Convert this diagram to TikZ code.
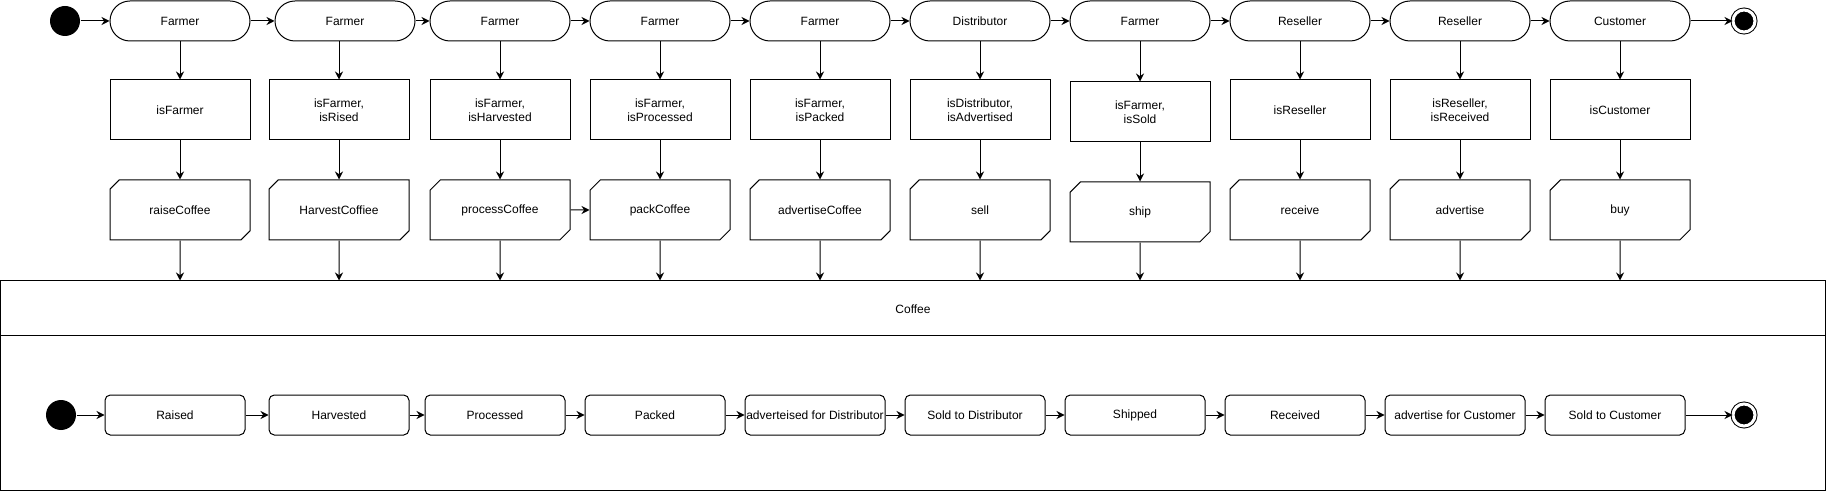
\documentclass[tikz,border=0pt]{standalone}
\usepackage{fontspec}
\setmainfont{Liberation Sans}
\usepackage{tikz}
\usetikzlibrary{arrows.meta,shapes.misc}
\tikzstyle{actor} = [draw, rectangle, rounded corners=15pt, minimum width=105pt, minimum height=30pt, inner sep=0pt]
\tikzstyle{check} = [draw, rectangle, minimum width=105pt, minimum height=45pt, inner sep=0pt, align=center]
\tikzstyle{task} = [draw, chamfered rectangle, chamfered rectangle corners={north west,south east}, chamfered rectangle xsep=9pt, minimum width=105pt, minimum height=45pt, inner sep=0pt]
\tikzstyle{status} = [draw, rectangle, rounded corners=4pt, minimum width=105pt, minimum height=30pt, inner sep=0pt]
\tikzstyle{startdot} = [circle, fill=black, minimum size=22.5pt, inner sep=0pt]
\tikzstyle{enddot} = [circle, draw, fill=black, double=white, double distance=2.25pt, minimum size=16.5pt, inner sep=0pt]
\tikzstyle{flow} = [-{Stealth[length=6pt,width=6pt]}]
\tikzset{font={\fontsize{9}{10.5}\selectfont}}

\begin{document}
\begin{tikzpicture}[x=0.75pt, y=-0.75pt, line width=0.75pt]
  \useasboundingbox (0,0) rectangle (1826,491);

  % who acts
  \node[at={(65,21)}, startdot] (s1) {};
  \node[at={(180,21)}, actor] (a1) {Farmer};
  \node[at={(345,21)}, actor] (a2) {Farmer};
  \node[at={(500,21)}, actor] (a3) {Farmer};
  \node[at={(660,21)}, actor] (a4) {Farmer};
  \node[at={(820,21)}, actor] (a5) {Farmer};
  \node[at={(980,21)}, actor] (a6) {Distributor};
  \node[at={(1140,21)}, actor] (a7) {Farmer};
  \node[at={(1300,21)}, actor] (a8) {Reseller};
  \node[at={(1460,21)}, actor] (a9) {Reseller};
  \node[at={(1620,21)}, actor] (a10) {Customer};
  \node[at={(1744,21)}, enddot] (e1) {};

  % checks
  \node[at={(180,110)}, check] (g1) {isFarmer};
  \node[at={(339,110)}, check] (g2) {isFarmer,\\isRised};
  \node[at={(500,110)}, check] (g3) {isFarmer,\\isHarvested};
  \node[at={(660,110)}, check] (g4) {isFarmer,\\isProcessed};
  \node[at={(820,110)}, check] (g5) {isFarmer,\\isPacked};
  \node[at={(980,110)}, check] (g6) {isDistributor,\\isAdvertised};
  \node[at={(1140,112)}, check] (g7) {isFarmer,\\isSold};
  \node[at={(1300,110)}, check] (g8) {isReseller};
  \node[at={(1460,110)}, check] (g9) {isReseller,\\isReceived};
  \node[at={(1620,110)}, check] (g10) {isCustomer};

  % functions
  \node[at={(180,210)}, task] (c1) {raiseCoffee};
  \node[at={(339,210)}, task] (c2) {HarvestCoffiee};
  \node[at={(500,210)}, task] (c3) {processCoffee};
  \node[at={(660,210)}, task] (c4) {packCoffee};
  \node[at={(820,210)}, task] (c5) {advertiseCoffee};
  \node[at={(980,210)}, task] (c6) {sell};
  \node[at={(1140,212)}, task] (c7) {ship};
  \node[at={(1300,210)}, task] (c8) {receive};
  \node[at={(1460,210)}, task] (c9) {advertise};
  \node[at={(1620,210)}, task] (c10) {buy};

  % the coffee object
  \node[at={(913,385.75)}, draw, minimum width=1368.75pt, minimum height=157.125pt, inner sep=0pt] (coffee) {};
  \node[at={(913,309)}] (title) {Coffee};
  \draw (0.5,336) -- (1825.5,336);

  \node[at={(61,415)}, startdot] (s2) {};
  \node[at={(175,415)}, status] (b1) {Raised};
  \node[at={(339,415)}, status] (b2) {Harvested};
  \node[at={(495,415)}, status] (b3) {Processed};
  \node[at={(655,415)}, status] (b4) {Packed};
  \node[at={(815,415)}, status] (b5) {adverteised for Distributor};
  \node[at={(975,415)}, status] (b6) {Sold to Distributor};
  \node[at={(1135,415)}, status] (b7) {Shipped};
  \node[at={(1295,415)}, status] (b8) {Received};
  \node[at={(1455,415)}, status] (b9) {advertise for Customer};
  \node[at={(1615,415)}, status] (b10) {Sold to Customer};
  \node[at={(1744,415)}, enddot] (e2) {};

  \draw[flow] (s1) -- (a1);
  \draw[flow] (a1) -- (a2);
  \draw[flow] (a2) -- (a3);
  \draw[flow] (a3) -- (a4);
  \draw[flow] (a4) -- (a5);
  \draw[flow] (a5) -- (a6);
  \draw[flow] (a6) -- (a7);
  \draw[flow] (a7) -- (a8);
  \draw[flow] (a8) -- (a9);
  \draw[flow] (a9) -- (a10);
  \draw[flow] (a10) -- (e1);

  \draw[flow] (a1) -- (g1);
  \draw[flow] (g2 |- a2.south) -- (g2);
  \draw[flow] (a3) -- (g3);
  \draw[flow] (a4) -- (g4);
  \draw[flow] (a5) -- (g5);
  \draw[flow] (a6) -- (g6);
  \draw[flow] (a7) -- (g7);
  \draw[flow] (a8) -- (g8);
  \draw[flow] (a9) -- (g9);
  \draw[flow] (a10) -- (g10);

  \draw[flow] (g1) -- (c1);
  \draw[flow] (g2) -- (c2);
  \draw[flow] (g3) -- (c3);
  \draw[flow] (g4) -- (c4);
  \draw[flow] (g5) -- (c5);
  \draw[flow] (g6) -- (c6);
  \draw[flow] (g7) -- (c7);
  \draw[flow] (g8) -- (c8);
  \draw[flow] (g9) -- (c9);
  \draw[flow] (g10) -- (c10);
  \draw[flow] (c3) -- (c4);

  \draw[flow] (c1) -- (c1 |- coffee.north);
  \draw[flow] (c2) -- (c2 |- coffee.north);
  \draw[flow] (c3) -- (c3 |- coffee.north);
  \draw[flow] (c4) -- (c4 |- coffee.north);
  \draw[flow] (c5) -- (c5 |- coffee.north);
  \draw[flow] (c6) -- (c6 |- coffee.north);
  \draw[flow] (c7) -- (c7 |- coffee.north);
  \draw[flow] (c8) -- (c8 |- coffee.north);
  \draw[flow] (c9) -- (c9 |- coffee.north);
  \draw[flow] (c10) -- (c10 |- coffee.north);

  \draw[flow] (s2) -- (b1);
  \draw[flow] (b1) -- (b2);
  \draw[flow] (b2) -- (b3);
  \draw[flow] (b3) -- (b4);
  \draw[flow] (b4) -- (b5);
  \draw[flow] (b5) -- (b6);
  \draw[flow] (b6) -- (b7);
  \draw[flow] (b7) -- (b8);
  \draw[flow] (b8) -- (b9);
  \draw[flow] (b9) -- (b10);
  \draw[flow] (b10) -- (e2);
\end{tikzpicture}
\end{document}
